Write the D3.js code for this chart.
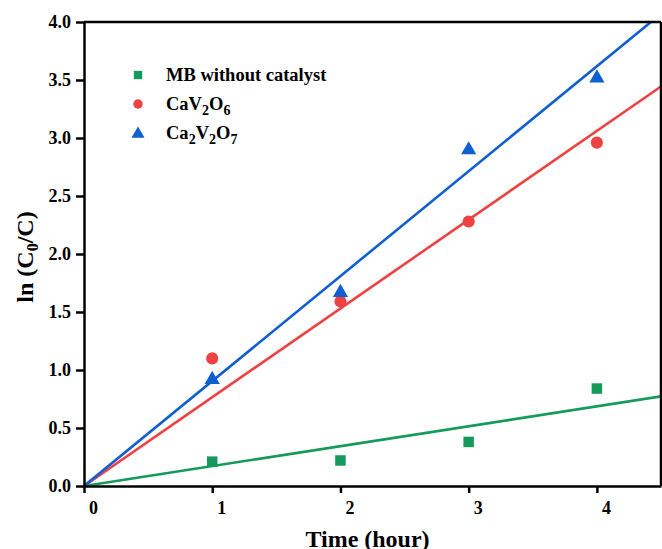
<html>
<head>
  <style>
    body { margin: 0; background: #fff; }
    .tick text { font-family: "Liberation Serif", "Times New Roman", serif; font-weight: bold; font-size: 18px; }
    .axistext { font-family: "Liberation Serif", "Times New Roman", serif; font-weight: bold; font-size: 24px; }
    .legend text { font-family: "Liberation Serif", "Times New Roman", serif; font-weight: bold; font-size: 18.5px; }
  </style>
</head>
<body>
  <div class="chart"></div>
  <script src="https://cdn.jsdelivr.net/npm/d3@7"></script>
  <script>
    // data
    let times = [1, 2, 3, 4];
    let mbValues = [0.21, 0.22, 0.38, 0.84];
    let cav2o6Values = [1.10, 1.59, 2.28, 2.96];
    let ca2v2o7Values = [0.93, 1.68, 2.91, 3.53];
    let xTicks = [0, 1, 2, 3, 4];
    let yTicks = [0.0, 0.5, 1.0, 1.5, 2.0, 2.5, 3.0, 3.5, 4.0];

    let series = [
      { name: "MB", values: mbValues, color: "#149a5a", shape: "square", label: [["MB without catalyst", ""]] },
      { name: "CaV2O6", values: cav2o6Values, color: "#ee4242", shape: "circle", label: [["CaV", ""], ["2", "sub"], ["O", ""], ["6", "sub"]] },
      { name: "Ca2V2O7", values: ca2v2o7Values, color: "#0f5fd0", shape: "triangle", label: [["Ca", ""], ["2", "sub"], ["V", ""], ["2", "sub"], ["O", ""], ["7", "sub"]] }
    ];

    let margin = { top: 22, right: 1, bottom: 63, left: 84 },
      width = 662 - margin.left - margin.right,
      height = 549 - margin.top - margin.bottom;

    let svg = d3.select(".chart").append("svg")
      .attr("width", 662)
      .attr("height", 549)
      .append("g")
      .attr("transform", "translate(" + margin.left + "," + margin.top + ")");

    let x = d3.scaleLinear().domain([0, 4.5]).range([0, width]);
    let y = d3.scaleLinear().domain([0, 4]).range([height, 0]);

    svg.append("clipPath").attr("id", "clip")
      .append("rect").attr("width", width).attr("height", height);

    // fitted lines through origin: slope = sum(xy)/sum(x^2)
    series.forEach(function (s) {
      let sxy = d3.sum(times, function (t, i) { return t * s.values[i]; });
      let sxx = d3.sum(times, function (t) { return t * t; });
      let k = sxy / sxx;
      svg.append("line")
        .attr("clip-path", "url(#clip)")
        .attr("x1", x(0)).attr("y1", y(0))
        .attr("x2", x(4.6)).attr("y2", y(k * 4.6))
        .attr("stroke", s.color)
        .attr("stroke-width", 2.6);
    });

    function symbolFor(shape, size) {
      let t = shape === "square" ? d3.symbolSquare : shape === "circle" ? d3.symbolCircle : d3.symbolTriangle;
      return d3.symbol().type(t).size(size)();
    }

    let sizes = { square: 110, circle: 115, triangle: 100 };

    series.forEach(function (s) {
      svg.selectAll(".pt-" + s.name)
        .data(s.values)
        .enter().append("path")
        .attr("d", symbolFor(s.shape, sizes[s.shape]))
        .attr("transform", function (d, i) {
          let dy = s.shape === "triangle" ? 1.5 : 0;
          return "translate(" + x(times[i]) + "," + (y(d) + dy) + ")";
        })
        .attr("fill", s.color);
    });

    // axes
    let xAxis = svg.append("g")
      .attr("transform", "translate(0," + height + ")")
      .call(d3.axisBottom(x).tickValues(xTicks).tickFormat(d3.format("d")).tickSize(7).tickSizeOuter(0));
    xAxis.selectAll(".tick text").attr("dx", 9).attr("y", 13).attr("dy", "0.85em");
    let yAxis = svg.append("g")
      .call(d3.axisLeft(y).tickValues(yTicks).tickFormat(d3.format(".1f")).tickSize(8).tickSizeOuter(0));
    yAxis.selectAll(".tick text").attr("x", -13);

    [xAxis, yAxis].forEach(function (a) {
      a.select(".domain").attr("stroke", "#000").attr("stroke-width", 2.5);
      a.selectAll(".tick line").attr("stroke", "#000").attr("stroke-width", 2.5);
      a.selectAll(".tick text").attr("fill", "#000");
    });

    // top and right frame
    svg.append("line").attr("x1", 0).attr("x2", width).attr("y1", 0).attr("y2", 0)
      .attr("stroke", "#000").attr("stroke-width", 2.5);
    svg.append("line").attr("x1", width).attr("x2", width).attr("y1", 0).attr("y2", height)
      .attr("stroke", "#000").attr("stroke-width", 2.5);

    // axis titles
    svg.append("text")
      .attr("class", "axistext")
      .attr("x", width / 2 - 5)
      .attr("y", height + 61)
      .style("text-anchor", "middle")
      .text("Time (hour)");

    let yt = svg.append("text")
      .attr("class", "axistext")
      .attr("transform", "translate(" + (-51) + "," + (height / 2 + 3) + ") rotate(-90)")
      .style("text-anchor", "middle");
    yt.append("tspan").text("ln (C");
    yt.append("tspan").attr("dy", 5).style("font-size", "16px").text("0");
    yt.append("tspan").attr("dy", -5).text("/C)");

    // legend
    let legend = svg.append("g").attr("class", "legend");
    series.forEach(function (s, i) {
      let row = legend.append("g")
        .attr("transform", "translate(" + (138 - margin.left) + "," + (75 - margin.top + i * 29) + ")");
      row.append("path")
        .attr("d", symbolFor(s.shape, s.shape === "triangle" ? 75 : 70))
        .attr("transform", s.shape === "triangle" ? "translate(0,1)" : null)
        .attr("fill", s.color);
      let txt = row.append("text").attr("x", 28).attr("y", 6);
      let prevSub = false;
      s.label.forEach(function (p) {
        let isSub = p[1] === "sub";
        let ts = txt.append("tspan").text(p[0]);
        if (isSub && !prevSub) ts.attr("dy", 5).style("font-size", "14px");
        else if (!isSub && prevSub) ts.attr("dy", -5);
        else if (isSub) ts.style("font-size", "14px");
        prevSub = isSub;
      });
    });
  </script>
</body>
</html>
